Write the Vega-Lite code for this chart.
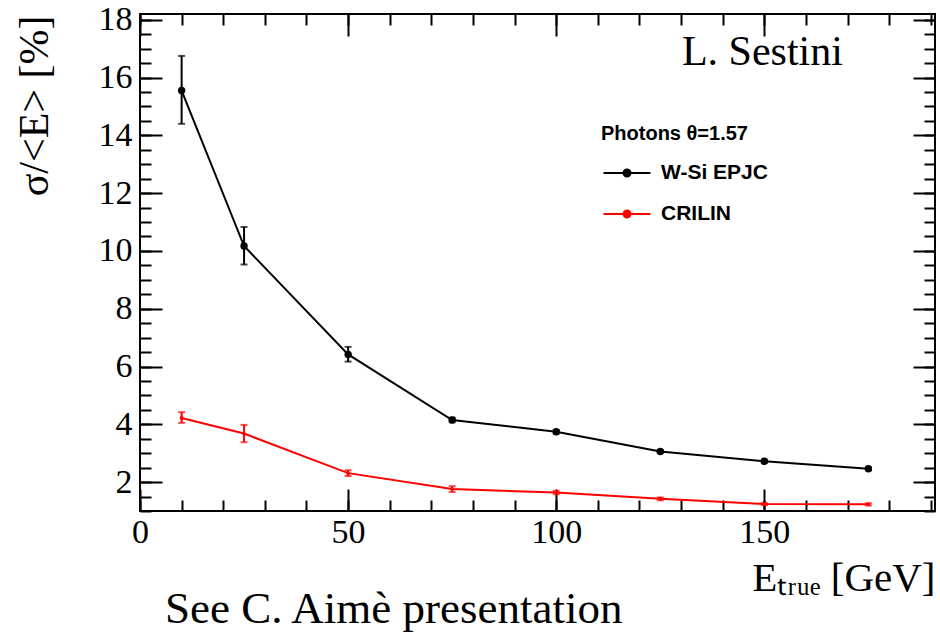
{
  "$schema": "https://vega.github.io/schema/vega-lite/v6.json",
  "width": 795,
  "height": 497,
  "autosize": {"type": "none"},
  "padding": {"left": 140, "top": 14, "right": 5, "bottom": 124},
  "background": "white",
  "config": {
    "view": {"stroke": "black", "strokeWidth": 2},
    "axis": {"domain": false, "grid": false, "tickColor": "black", "tickWidth": 2, "labelColor": "black", "labelFont": "Liberation Serif", "labelFontSize": 34, "titleColor": "black", "titleFont": "Liberation Serif", "titleFontWeight": "normal", "labelFlush": false, "labelOverlap": false}
  },
  "title": {"text": "See C. Aimè presentation", "orient": "bottom", "anchor": "start", "frame": "group", "offset": -11, "dx": 25, "font": "Liberation Serif", "fontSize": 45, "fontWeight": "normal", "color": "black"},
  "data": {"values": [
    {"E": 10, "s": 15.55, "lo": 14.4, "hi": 16.75, "series": "W-Si EPJC"},
    {"E": 25, "s": 10.17, "lo": 9.53, "hi": 10.83, "series": "W-Si EPJC"},
    {"E": 50, "s": 6.42, "lo": 6.17, "hi": 6.68, "series": "W-Si EPJC"},
    {"E": 75, "s": 4.15, "lo": 4.07, "hi": 4.23, "series": "W-Si EPJC"},
    {"E": 100, "s": 3.74, "lo": 3.68, "hi": 3.8, "series": "W-Si EPJC"},
    {"E": 125, "s": 3.06, "lo": 3.01, "hi": 3.11, "series": "W-Si EPJC"},
    {"E": 150, "s": 2.72, "lo": 2.67, "hi": 2.77, "series": "W-Si EPJC"},
    {"E": 175, "s": 2.46, "lo": 2.41, "hi": 2.51, "series": "W-Si EPJC"},
    {"E": 10, "s": 4.22, "lo": 4.05, "hi": 4.42, "series": "CRILIN"},
    {"E": 25, "s": 3.68, "lo": 3.38, "hi": 3.98, "series": "CRILIN"},
    {"E": 50, "s": 2.31, "lo": 2.21, "hi": 2.41, "series": "CRILIN"},
    {"E": 75, "s": 1.76, "lo": 1.66, "hi": 1.86, "series": "CRILIN"},
    {"E": 100, "s": 1.64, "lo": 1.58, "hi": 1.7, "series": "CRILIN"},
    {"E": 125, "s": 1.42, "lo": 1.37, "hi": 1.47, "series": "CRILIN"},
    {"E": 150, "s": 1.24, "lo": 1.2, "hi": 1.28, "series": "CRILIN"},
    {"E": 175, "s": 1.23, "lo": 1.19, "hi": 1.27, "series": "CRILIN"}
  ]},
  "resolve": {"axis": {"x": "independent", "y": "independent"}},
  "layer": [
    {
      "mark": {"type": "line", "strokeWidth": 2},
      "encoding": {
        "x": {"field": "E", "type": "quantitative", "scale": {"domain": [0, 191], "nice": false, "zero": false},
          "axis": {"orient": "bottom", "values": [0, 50, 100, 150], "tickSize": -22, "labelPadding": 26, "title": "Eₜᵣᵤₑ [GeV]", "titleFontSize": 41, "titleX": 795, "titleY": 79, "titleAlign": "right", "titleBaseline": "alphabetic", "titleAnchor": null}},
        "y": {"field": "s", "type": "quantitative", "scale": {"domain": [1.0, 18.2], "nice": false, "zero": false},
          "axis": {"orient": "left", "values": [2, 4, 6, 8, 10, 12, 14, 16, 18], "tickSize": -22, "labelPadding": 30, "title": "σ/<E> [%]", "titleFontSize": 42, "titleAngle": 270, "titleX": -106, "titleY": 1, "titleAlign": "right", "titleBaseline": "middle", "titleAnchor": null}},
        "color": {"field": "series", "type": "nominal", "scale": {"domain": ["W-Si EPJC", "CRILIN"], "range": ["black", "#ff0000"]},
          "legend": {"orient": "none", "legendX": 461, "legendY": 110, "padding": 0, "title": "Photons θ=1.57", "titleFont": "Liberation Sans", "titleFontSize": 20, "titleFontWeight": "bold", "titleColor": "black", "titlePadding": 16, "labelFont": "Liberation Sans", "labelFontSize": 21, "labelFontWeight": "bold", "labelColor": "black", "symbolType": "M-2,0H2M0.3,0A0.3,0.3,0,1,1,-0.3,0A0.3,0.3,0,1,1,0.3,0Z", "symbolSize": 552, "symbolStrokeWidth": 2, "symbolOffset": 13, "labelOffset": 21, "rowPadding": 18,
            "encode": {"symbols": {"update": {"fill": {"scale": "color", "field": "value"}, "stroke": {"scale": "color", "field": "value"}, "opacity": {"value": 1}, "size": {"value": 552}, "strokeWidth": {"value": 2}, "shape": {"value": "M-2,0H2M0.3,0A0.3,0.3,0,1,1,-0.3,0A0.3,0.3,0,1,1,0.3,0Z"}}}}}}
      }
    },
    {
      "transform": [{"filter": "datum.series === 'W-Si EPJC'"}],
      "mark": {"type": "point", "filled": true, "opacity": 1, "size": 55},
      "encoding": {
        "x": {"field": "E", "type": "quantitative", "axis": {"orient": "top", "values": [0, 50, 100, 150], "tickSize": -22, "labels": false, "title": null}},
        "y": {"field": "s", "type": "quantitative", "axis": {"orient": "right", "values": [2, 4, 6, 8, 10, 12, 14, 16, 18], "tickSize": -22, "labels": false, "title": null}},
        "color": {"field": "series", "type": "nominal", "legend": null}
      }
    },
    {
      "transform": [{"filter": "datum.series === 'CRILIN'"}],
      "mark": {"type": "point", "filled": true, "opacity": 1, "size": 14},
      "encoding": {
        "x": {"field": "E", "type": "quantitative", "axis": null},
        "y": {"field": "s", "type": "quantitative", "axis": null},
        "color": {"field": "series", "type": "nominal", "legend": null}
      }
    },
    {
      "mark": {"type": "errorbar", "ticks": {"size": 7, "thickness": 2}, "thickness": 2},
      "encoding": {
        "x": {"field": "E", "type": "quantitative", "axis": {"orient": "bottom", "values": [0, 10, 20, 30, 40, 50, 60, 70, 80, 90, 100, 110, 120, 130, 140, 150, 160, 170, 180, 190], "tickSize": -11, "labels": false, "title": null}},
        "y": {"field": "lo", "type": "quantitative", "axis": {"orient": "left", "values": [1, 1.5, 2, 2.5, 3, 3.5, 4, 4.5, 5, 5.5, 6, 6.5, 7, 7.5, 8, 8.5, 9, 9.5, 10, 10.5, 11, 11.5, 12, 12.5, 13, 13.5, 14, 14.5, 15, 15.5, 16, 16.5, 17, 17.5, 18], "tickSize": -11, "labels": false, "title": null}},
        "y2": {"field": "hi"},
        "color": {"field": "series", "type": "nominal", "legend": null}
      }
    },
    {
      "data": {"values": [{"label": "L. Sestini"}]},
      "mark": {"type": "text", "align": "left", "baseline": "alphabetic", "font": "Liberation Serif", "fontSize": 42, "color": "black"},
      "encoding": {
        "text": {"field": "label"},
        "x": {"datum": 130.2, "type": "quantitative", "axis": {"orient": "top", "values": [0, 10, 20, 30, 40, 50, 60, 70, 80, 90, 100, 110, 120, 130, 140, 150, 160, 170, 180, 190], "tickSize": -11, "labels": false, "title": null}},
        "y": {"datum": 16.435, "type": "quantitative", "axis": {"orient": "right", "values": [1, 1.5, 2, 2.5, 3, 3.5, 4, 4.5, 5, 5.5, 6, 6.5, 7, 7.5, 8, 8.5, 9, 9.5, 10, 10.5, 11, 11.5, 12, 12.5, 13, 13.5, 14, 14.5, 15, 15.5, 16, 16.5, 17, 17.5, 18], "tickSize": -11, "labels": false, "title": null}}
      }
    }
  ]
}
